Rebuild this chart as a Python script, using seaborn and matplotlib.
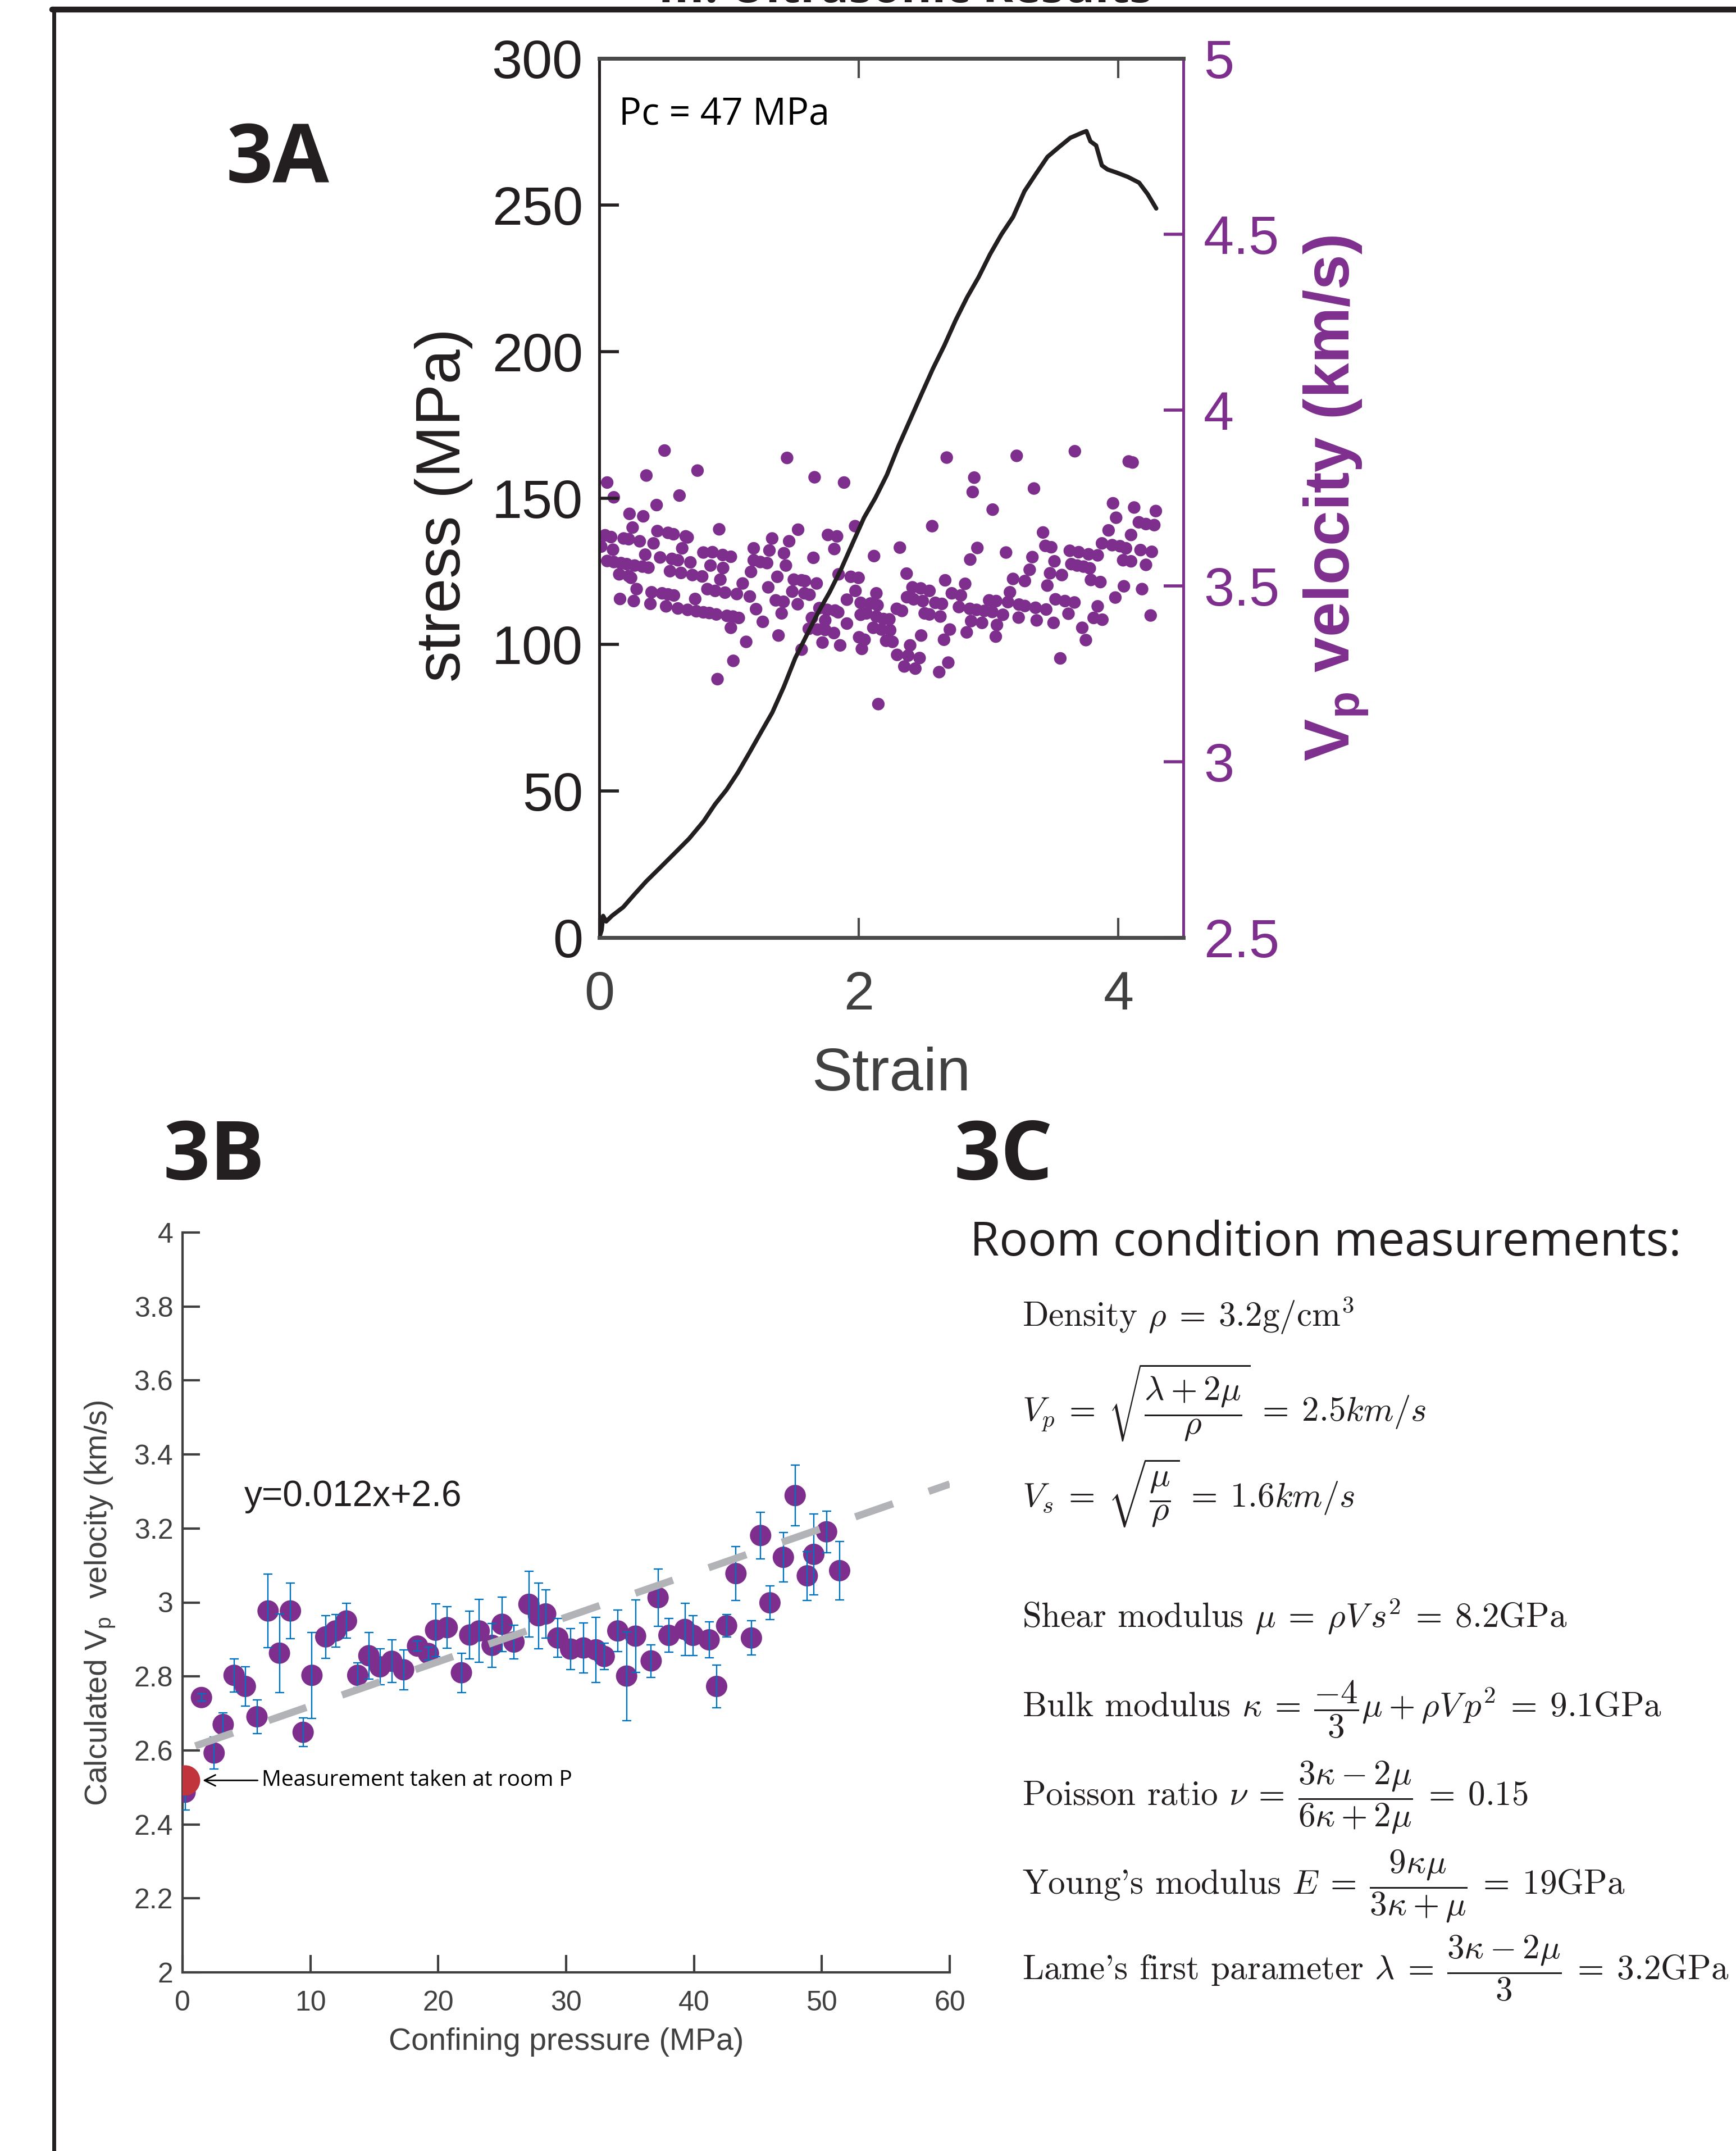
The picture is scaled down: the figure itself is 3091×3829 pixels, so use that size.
import numpy as np
import pandas as pd
import matplotlib
matplotlib.use('Agg')
import matplotlib.pyplot as plt
import seaborn as sns
from matplotlib.lines import Line2D

# 3A: stress-strain curve (Pc = 47 MPa)
strain_curve = [0.0, 0.018, 0.03, 0.053, 0.097, 0.185, 0.274, 0.362, 0.472, 0.583, 0.693, 0.804,
                0.892, 0.98, 1.068, 1.157, 1.245, 1.333, 1.422, 1.51, 1.598, 1.687, 1.775, 1.863,
                1.951, 2.04, 2.128, 2.216, 2.305, 2.393, 2.481, 2.57, 2.658, 2.746, 2.834, 2.923,
                3.011, 3.099, 3.188, 3.276, 3.364, 3.453, 3.541, 3.629, 3.717, 3.753, 3.784, 3.828,
                3.872, 3.916, 3.982, 4.071, 4.159, 4.225, 4.291]
stress_curve = [0.0, 2.5, 7.4, 5.5, 7.4, 10.4, 14.9, 19.2, 24.0, 28.9, 33.8, 39.7,
                45.5, 50.4, 56.3, 63.1, 70.0, 76.8, 85.6, 95.4, 103.2, 111.0, 117.9, 125.7,
                134.5, 143.3, 150.1, 157.9, 167.7, 176.5, 185.3, 194.1, 202.0, 210.7, 218.5, 225.4,
                233.2, 240.0, 245.9, 254.7, 260.6, 266.4, 269.7, 272.9, 274.6, 275.2, 271.7, 270.3,
                263.5, 262.1, 261.1, 259.6, 257.6, 253.7, 248.8]

# 3A: P-wave velocity picks
vp_strain = [
    0.503, 1.447, 0.757, 0.363, 0.061, 1.659, 1.886, 0.618, 0.112, 2.677, 3.216, 3.664, 4.079, 4.109,
    2.889, 2.877, 3.349, 3.031, 3.958, 4.121, 4.288,
    0.442, 0.233, 0.339, 0.257, 0.924, 1.532, 1.971, 2.565, 3.419, 3.982, 3.924, 4.097, 4.157, 4.212, 4.276,
    0.045, 0.091, 0.188, 0.227, 0.312, 0.418, 0.448, 0.530, 0.572, 0.666, 0.681, 0.639, 0.106, 0.015,
    1.332, 1.463, 1.762, 1.832, 1.811, 1.190, 1.311, 1.423, 0.802, 0.872, 0.951, 1.014, 1.650, 2.117,
    2.316, 2.913, 2.858, 3.134, 3.337, 3.437, 3.482, 3.625, 3.694, 3.770, 3.840, 3.873, 3.952, 4.012,
    4.058, 4.170, 4.257,
    0.061, 0.112, 0.167, 0.212, 0.273, 0.333, 0.379, 0.354, 0.469, 0.560, 0.606, 0.702, 0.545, 0.630,
    0.718, 0.793, 0.857, 0.954, 0.154, 0.227, 0.245, 1.190, 1.241, 1.293, 1.169, 1.372, 1.438, 1.499,
    1.559, 1.584, 1.675, 1.844, 1.938, 1.998, 2.368, 2.665, 2.819, 3.316, 3.188, 3.279, 3.452, 3.473,
    3.564, 3.507, 3.637, 3.682, 3.731, 3.779, 3.788, 3.861, 4.036, 4.097, 4.212, 4.042, 4.182,
    0.288, 0.403, 0.484, 0.530, 0.575, 0.833, 0.893, 0.969, 1.060, 1.105, 1.160, 0.933, 0.739, 0.160,
    0.266, 0.394, 0.515, 0.606, 0.681, 0.748, 0.802, 0.848, 0.902, 0.984, 1.030, 1.075, 1.208, 1.302,
    1.360, 1.420, 1.487, 1.529, 1.581, 1.620, 1.405, 1.260, 1.014, 1.696, 1.756, 1.817, 1.841, 1.974,
    1.908, 2.014, 2.089, 2.144, 2.135, 2.371, 2.422, 2.413, 2.477, 2.544, 2.492, 2.589, 2.640, 2.716,
    2.786, 2.771, 2.855, 2.907, 2.967, 3.028, 3.004, 3.058, 3.149, 3.164, 3.234, 3.279, 3.361, 3.443,
    3.515, 3.588, 3.661, 3.840, 3.976, 4.248, 2.292, 2.332, 2.507, 2.544, 2.628, 2.865, 2.949, 3.064,
    3.110, 3.231, 3.370, 3.500, 3.615, 3.809, 3.876, 3.721, 3.749, 3.552,
    1.638, 1.741, 1.614, 1.681, 1.741, 1.808, 1.908, 2.059, 2.014, 2.135, 2.189, 2.235, 2.111, 2.174,
    2.241, 2.259, 2.210, 2.044, 2.002, 2.701, 2.831, 2.656, 2.480, 3.055, 1.132, 1.381, 1.720, 1.856,
    1.559, 2.023, 2.295, 2.395, 2.380, 2.468, 2.350, 2.435, 2.619, 2.689, 1.033, 0.911, 2.150]
vp_kms = [
    3.885, 3.864, 3.828, 3.814, 3.794, 3.809, 3.794, 3.757, 3.752, 3.865, 3.870, 3.883, 3.854, 3.851,
    3.808, 3.767, 3.777, 3.717, 3.735, 3.723, 3.713,
    3.730, 3.705, 3.698, 3.666, 3.661, 3.660, 3.670, 3.670, 3.652, 3.694, 3.658, 3.645, 3.681, 3.676, 3.673,
    3.644, 3.639, 3.635, 3.633, 3.627, 3.621, 3.656, 3.651, 3.647, 3.641, 3.638, 3.607, 3.603, 3.612,
    3.635, 3.627, 3.645, 3.641, 3.605, 3.607, 3.601, 3.593, 3.595, 3.596, 3.588, 3.583, 3.580, 3.585,
    3.609, 3.608, 3.575, 3.595, 3.582, 3.614, 3.610, 3.600, 3.596, 3.590, 3.587, 3.621, 3.616, 3.613,
    3.607, 3.602, 3.597,
    3.571, 3.568, 3.565, 3.562, 3.558, 3.555, 3.552, 3.589, 3.581, 3.577, 3.573, 3.567, 3.542, 3.537,
    3.531, 3.527, 3.558, 3.551, 3.533, 3.528, 3.523, 3.573, 3.568, 3.565, 3.540, 3.526, 3.558, 3.518,
    3.516, 3.514, 3.507, 3.533, 3.526, 3.523, 3.535, 3.516, 3.506, 3.546, 3.520, 3.514, 3.501, 3.536,
    3.531, 3.570, 3.562, 3.558, 3.555, 3.550, 3.517, 3.511, 3.573, 3.570, 3.560, 3.499, 3.491,
    3.491, 3.482, 3.479, 3.476, 3.473, 3.491, 3.486, 3.481, 3.477, 3.507, 3.470, 3.518, 3.463, 3.463,
    3.457, 3.449, 3.442, 3.436, 3.432, 3.428, 3.425, 3.423, 3.419, 3.415, 3.413, 3.409, 3.434, 3.496,
    3.459, 3.455, 3.484, 3.448, 3.479, 3.475, 3.422, 3.398, 3.381, 3.437, 3.432, 3.430, 3.425, 3.486,
    3.461, 3.452, 3.450, 3.445, 3.479, 3.468, 3.462, 3.496, 3.493, 3.486, 3.457, 3.452, 3.449, 3.479,
    3.473, 3.440, 3.435, 3.432, 3.429, 3.426, 3.459, 3.457, 3.454, 3.482, 3.447, 3.443, 3.438, 3.433,
    3.462, 3.457, 3.453, 3.442, 3.467, 3.416, 3.435, 3.429, 3.422, 3.419, 3.413, 3.400, 3.395, 3.389,
    3.418, 3.410, 3.402, 3.395, 3.421, 3.409, 3.404, 3.381, 3.346, 3.294,
    3.409, 3.402, 3.378, 3.376, 3.375, 3.366, 3.393, 3.422, 3.418, 3.413, 3.406, 3.405, 3.381, 3.376,
    3.374, 3.341, 3.344, 3.347, 3.354, 3.376, 3.368, 3.347, 3.359, 3.356, 3.341, 3.359, 3.339, 3.331,
    3.319, 3.321, 3.304, 3.331, 3.302, 3.295, 3.271, 3.265, 3.255, 3.282, 3.287, 3.235, 3.164]

# 3B: calculated Vp vs confining pressure
pc_mpa = [0.2, 1.48, 2.47, 3.18, 4.03, 4.91, 5.82, 6.69, 7.58, 8.44, 9.43, 10.12, 11.20, 11.97, 12.82,
          13.70, 14.57, 15.44, 16.37, 17.29, 18.38, 19.23, 19.79, 20.70, 21.81, 22.46, 23.20, 24.21,
          24.99, 25.92, 27.09, 27.84, 28.40, 29.35, 30.35, 31.36, 32.33, 32.98, 34.04, 34.73, 35.43,
          36.65, 37.19, 38.04, 39.29, 39.93, 41.18, 41.77, 42.55, 43.28, 44.49, 45.21, 45.94, 46.99,
          47.91, 48.86, 49.37, 50.37, 51.39]
vp_calc = [2.487, 2.743, 2.593, 2.670, 2.803, 2.773, 2.691, 2.977, 2.863, 2.977, 2.649, 2.803, 2.907,
           2.923, 2.950, 2.803, 2.856, 2.826, 2.841, 2.818, 2.882, 2.862, 2.925, 2.932, 2.810, 2.912,
           2.923, 2.884, 2.941, 2.893, 2.995, 2.964, 2.969, 2.904, 2.874, 2.877, 2.872, 2.854, 2.923,
           2.801, 2.909, 2.842, 3.013, 2.911, 2.927, 2.911, 2.899, 2.773, 2.937, 3.078, 2.904, 3.181,
           2.999, 3.122, 3.289, 3.072, 3.130, 3.191, 3.086]
vp_err = [0.048, 0.010, 0.043, 0.031, 0.045, 0.053, 0.046, 0.100, 0.106, 0.075, 0.039, 0.116, 0.058,
          0.044, 0.047, 0.033, 0.063, 0.048, 0.058, 0.054, 0.014, 0.018, 0.071, 0.056, 0.053, 0.064,
          0.085, 0.059, 0.074, 0.045, 0.089, 0.089, 0.065, 0.052, 0.056, 0.067, 0.088, 0.036, 0.056,
          0.120, 0.098, 0.044, 0.078, 0.046, 0.071, 0.054, 0.048, 0.057, 0.031, 0.073, 0.046, 0.063,
          0.046, 0.067, 0.082, 0.066, 0.109, 0.056, 0.079]
room_p = [0.2]
room_vp = [2.519]
fit_slope = 0.012
fit_intercept = 2.6
fit_range = [1.0, 60.0]

PURPLE = '#7E2F8E'
INK = '#231F20'
GREY = '#404040'
W, H = 3091, 3829

sns.set_style('ticks')
plt.rcParams['font.family'] = ['Liberation Sans', 'DejaVu Sans']
plt.rcParams['mathtext.fontset'] = 'custom'
plt.rcParams['mathtext.rm'] = 'Liberation Sans'
plt.rcParams['mathtext.it'] = 'Liberation Sans:italic'
plt.rcParams['mathtext.bf'] = 'Liberation Sans:bold'

fig = plt.figure(figsize=(W / 100, H / 100), dpi=100)
fig.patch.set_facecolor('white')

# frame lines and the heading that runs off the top edge
fig.add_artist(Line2D([93 / W, 1], [1 - 17 / H] * 2, color=INK, lw=7.5))
fig.add_artist(Line2D([96 / W] * 2, [0, 1 - 17 / H], color=INK, lw=5))
fig.text(1612 / W, 1 - 4 / H, 'III. Ultrasonic Results', ha='center', va='baseline',
         fontsize=60, fontweight='bold', family=['Open Sans'], color=INK)

# ---------- 3A ----------
axA = fig.add_axes([1067 / W, 1 - 1669 / H, 1040 / W, 1565 / H])
axA2 = axA.twinx()
axA.set_zorder(axA2.get_zorder() + 1)
axA.patch.set_visible(False)

sns.scatterplot(x=vp_strain, y=vp_kms, ax=axA2, color=PURPLE, s=260, linewidth=0,
                edgecolor='none', legend=False)
sns.lineplot(x=strain_curve, y=stress_curve, ax=axA, color=INK, lw=5.5, sort=False,
             estimator=None)

axA.set_xlim(0, 4.5)
axA.set_ylim(0, 300)
axA2.set_ylim(2.5, 5)
axA.set_xticks([0, 2, 4])
axA.set_yticks(range(0, 301, 50))
vp_ticks = [2.5, 3, 3.5, 4, 4.5, 5]
axA2.set_yticks(vp_ticks)
axA2.set_yticklabels([f'{t:g}' for t in vp_ticks])

for side in ['top', 'bottom']:
    axA.spines[side].set_color('#4A4A4A')
    axA.spines[side].set_linewidth(5)
axA.spines['left'].set_color(INK)
axA.spines['left'].set_linewidth(3.6)
axA.spines['right'].set_visible(False)
for side in ['top', 'bottom', 'left']:
    axA2.spines[side].set_visible(False)
axA2.spines['right'].set_color(PURPLE)
axA2.spines['right'].set_linewidth(3.6)

axA.tick_params(axis='y', direction='in', length=25, width=4, color=INK, labelsize=70,
                labelcolor=INK, pad=21, right=False)
axA.tick_params(axis='x', direction='in', length=25, width=3, color='#4A4A4A', labelsize=70,
                labelcolor=GREY, pad=42, top=True)
axA2.tick_params(axis='y', direction='in', length=25, width=4, color=PURPLE, labelsize=70,
                 labelcolor=PURPLE, pad=26, left=False)

axA.set_xlabel('Strain', fontsize=78, color=GREY)
axA.xaxis.set_label_coords(0.5, -0.124)
axA.set_ylabel('stress (MPa)', fontsize=80, color=INK)
axA.yaxis.set_label_coords(-0.216, 0.492)
axA2.set_ylabel(r'V$_{\mathbf{p}}$ velocity (km/s)', fontsize=81, color=PURPLE, fontweight='bold')
axA2.yaxis.set_label_coords(1.204, 0.50)

axA.text(0.034, 0.9246, 'Pc = 47 MPa', transform=axA.transAxes, fontsize=48,
         family=['Open Sans'], va='baseline', color='black')

# ---------- 3B ----------
axB = fig.add_axes([325 / W, 1 - 3511 / H, 1366 / W, 1317 / H])
sns.scatterplot(x=pc_mpa, y=vp_calc, ax=axB, color=PURPLE, s=750, linewidth=0,
                edgecolor='none', legend=False, zorder=3)
axB.errorbar(pc_mpa, vp_calc, yerr=vp_err, fmt='none', ecolor='#0072BD', elinewidth=1.7,
             capsize=5.6, capthick=1.7, zorder=4)
fit_x = np.array(fit_range)
fit_y = fit_slope * fit_x + fit_intercept
sns.lineplot(x=fit_x, y=fit_y, ax=axB, color='#B2B3B6', lw=9.3, zorder=5)
axB.get_lines()[-1].set_linestyle((0, (5.5, 5.2)))
sns.scatterplot(x=room_p, y=room_vp, ax=axB, color='#C1343B', s=1500, linewidth=0,
                edgecolor='none', legend=False, zorder=6)

axB.annotate('Measurement taken at room P', xy=(1.58, room_vp[0]), xytext=(6.2, room_vp[0]),
             va='center', ha='left', fontsize=28, family=['Open Sans'], color='black',
             arrowprops=dict(arrowstyle='->, head_length=0.5, head_width=0.25', color='black',
                             lw=2, shrinkA=3, shrinkB=0))
axB.text(4.83, 3.26, f'y={fit_slope:g}x+{fit_intercept:g}', fontsize=46, color=INK,
         va='baseline', ha='left')

axB.set_xlim(0, 60)
axB.set_ylim(2, 4)
axB.set_xticks(range(0, 61, 10))
b_yticks = np.round(np.arange(2, 4.01, 0.2), 1)
axB.set_yticks(b_yticks)
axB.set_yticklabels([f'{t:g}' for t in b_yticks])
for side in ['top', 'right']:
    axB.spines[side].set_visible(False)
for side in ['left', 'bottom']:
    axB.spines[side].set_color(GREY)
    axB.spines[side].set_linewidth(3)
axB.tick_params(axis='both', direction='in', length=22, width=3, color=GREY, labelsize=36,
                labelcolor=GREY)
axB.tick_params(axis='x', pad=23)
axB.tick_params(axis='y', pad=12)
axB.set_xlabel('Confining pressure (MPa)', fontsize=40, color=GREY)
axB.xaxis.set_label_coords(0.5, -0.0744)
axB.set_ylabel(r'Calculated V$_\mathrm{p}$  velocity (km/s)', fontsize=40, color=GREY)
axB.yaxis.set_label_coords(-0.085, 0.499)

# ---------- panel letters ----------
for letter, x, y in [('3A', 403, 325), ('3B', 290, 2100), ('3C', 1699, 2100)]:
    fig.text(x / W, 1 - y / H, letter, fontsize=105, fontweight='bold', family=['Open Sans'],
             va='baseline', ha='left', color=INK)

# ---------- 3C ----------
fig.text(1727 / W, 1 - 2235 / H, 'Room condition measurements:', fontsize=61,
         family=['Open Sans'], va='baseline', ha='left', color=INK)

EQ = r'\:=\:'
formulas = [
    (2361, r'Density $\rho' + EQ + r'3.2\mathrm{g/cm}^3$'),
    (2530, r'$V_p' + EQ + r'\sqrt{\dfrac{\lambda + 2\mu}{\rho}}' + EQ + r'2.5km/s$'),
    (2683, r'$V_s' + EQ + r'\sqrt{\dfrac{\mu}{\rho}}' + EQ + r'1.6km/s$'),
    (2897, r'Shear modulus $\mu' + EQ + r'\rho V\,s^2' + EQ + r'8.2\mathrm{GPa}$'),
    (3056, r'Bulk modulus $\kappa' + EQ + r'\dfrac{-4}{3}\mu + \rho V\,p^2' + EQ + r'9.1\mathrm{GPa}$'),
    (3213, r'Poisson ratio $\nu' + EQ + r'\dfrac{3\kappa - 2\mu}{6\kappa + 2\mu}' + EQ + r'0.15$'),
    (3371, r"Young's modulus $E" + EQ + r'\dfrac{9\kappa\mu}{3\kappa + \mu}' + EQ + r'19\mathrm{GPa}$'),
    (3524, r"Lame's first parameter $\lambda" + EQ + r'\dfrac{3\kappa - 2\mu}{3}' + EQ + r'3.2\mathrm{GPa}$'),
]
for y, txt in formulas:
    fig.text(1820 / W, 1 - y / H, txt, fontsize=44, family=['cmr10'], math_fontfamily='cm',
             va='baseline', ha='left', color=INK)

fig.savefig('out.png', dpi=100)
